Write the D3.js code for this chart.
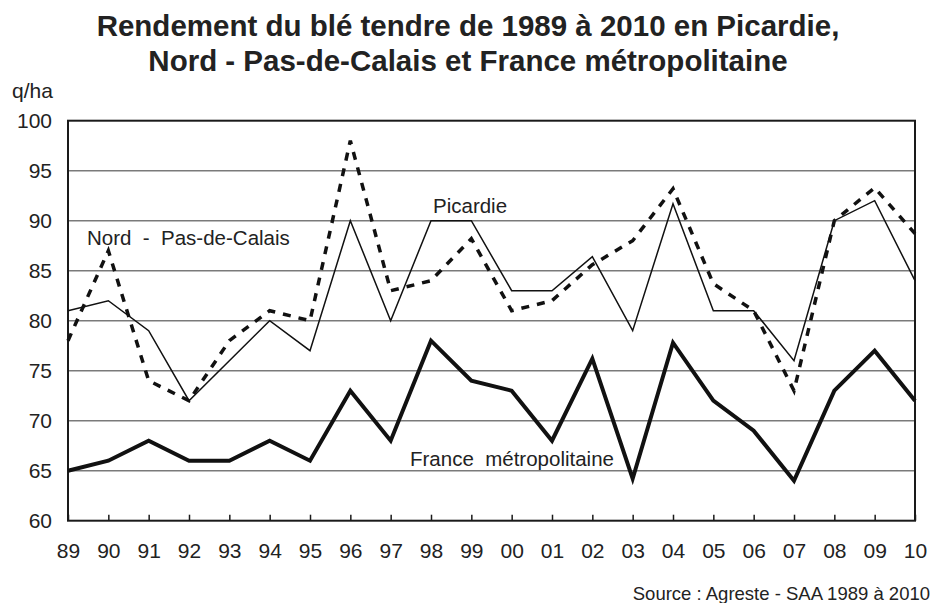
<!DOCTYPE html>
<html>
<head>
<meta charset="utf-8">
<script src="https://cdn.jsdelivr.net/npm/d3@7"></script>
<style>
  body { margin: 0; background: #fff; }
  svg { font-family: "Liberation Sans", Arial, sans-serif; }
</style>
</head>
<body>
<svg id="chart" width="931" height="603"></svg>
<script>
const years = ["89","90","91","92","93","94","95","96","97","98","99","00","01","02","03","04","05","06","07","08","09","10"];
const picardie = [81,82,79,72,76,80,77,90,80,90,90,83,83,86.4,79,91.7,81,81,76,90,92,84];
const nordPdc = [78,87,74,72,78,81,80,98,83,84,88.2,81,82,85.6,88,93.2,83.7,81,73,90,93.3,88.7];
const france = [65,66,68,66,66,68,66,73,68,78,74,73,68,76.2,64.2,77.8,72,69,64,73,77,72];
const yTicks = [60,65,70,75,80,85,90,95,100];

const margin = { top: 120.7, right: 16, bottom: 82.3, left: 68 };
const width = 931 - margin.left - margin.right;
const height = 603 - margin.top - margin.bottom;

const svg = d3.select('#chart');

// title
svg.append("text")
    .attr("x", 468).attr("y", 36)
    .attr("text-anchor", "middle")
    .attr("font-size", 29.5).attr("font-weight", "bold").attr("fill", "#222")
    .text("Rendement du blé tendre de 1989 à 2010 en Picardie,");
svg.append("text")
    .attr("x", 468).attr("y", 70.5)
    .attr("text-anchor", "middle")
    .attr("font-size", 29.5).attr("font-weight", "bold").attr("fill", "#222")
    .text("Nord - Pas-de-Calais et France métropolitaine");

svg.append("text")
    .attr("x", 12).attr("y", 98)
    .attr("font-size", 21).attr("fill", "#222")
    .text("q/ha");

const chart = svg.append("g")
    .attr("transform", `translate(${margin.left},${margin.top})`);

const xScale = d3.scalePoint().domain(years).range([0, width]);
const yScale = d3.scaleLinear().domain([60, 100]).range([height, 0]);

// gridlines
chart.selectAll(".grid")
    .data(yTicks.slice(1, -1))
    .enter().append("line")
    .attr("x1", 0).attr("x2", width)
    .attr("y1", d => yScale(d)).attr("y2", d => yScale(d))
    .attr("stroke", "#7a7a7a").attr("stroke-width", 1.5);

// frame
chart.append("rect")
    .attr("width", width).attr("height", height)
    .attr("fill", "none").attr("stroke", "#1a1a1a").attr("stroke-width", 2);

// y axis labels
const yAxis = d3.axisLeft(yScale).tickValues(yTicks).tickSize(0).tickPadding(16);
chart.append("g").call(yAxis)
    .call(g => g.select(".domain").remove())
    .selectAll("text")
    .attr("font-size", 21).attr("fill", "#222")
    .attr("font-family", "Liberation Sans, Arial, sans-serif");

// x axis with inner ticks
const xAxis = d3.axisBottom(xScale).tickSize(-6).tickPadding(22);
chart.append("g")
    .attr("transform", `translate(0,${height})`)
    .call(xAxis)
    .call(g => g.select(".domain").remove())
    .call(g => g.selectAll(".tick line").attr("stroke", "#1a1a1a").attr("stroke-width", 1.5))
    .selectAll("text")
    .attr("font-size", 21).attr("fill", "#222")
    .attr("font-family", "Liberation Sans, Arial, sans-serif");

const line = d3.line()
    .x((d, i) => xScale(years[i]))
    .y(d => yScale(d));

chart.append("path").datum(france)
    .attr("d", line).attr("fill", "none")
    .attr("stroke", "#111").attr("stroke-width", 4).attr("stroke-linejoin", "miter");

chart.append("path").datum(picardie)
    .attr("d", line).attr("fill", "none")
    .attr("stroke", "#111").attr("stroke-width", 1.5);

chart.append("path").datum(nordPdc)
    .attr("d", line).attr("fill", "none")
    .attr("stroke", "#111").attr("stroke-width", 3.5)
    .attr("stroke-dasharray", "8,8");

// series labels
svg.append("text").attr("x", 87).attr("y", 245)
    .attr("font-size", 20.5).attr("fill", "#222")
    .attr("xml:space", "preserve")
    .text("Nord  -  Pas-de-Calais");
svg.append("text").attr("x", 433).attr("y", 213)
    .attr("font-size", 20.5).attr("fill", "#222")
    .text("Picardie");
svg.append("text").attr("x", 410).attr("y", 466)
    .attr("font-size", 20.5).attr("fill", "#222")
    .attr("xml:space", "preserve")
    .text("France  métropolitaine");

svg.append("text").attr("x", 930).attr("y", 600)
    .attr("text-anchor", "end")
    .attr("font-size", 18.5).attr("fill", "#222")
    .text("Source : Agreste - SAA 1989 à 2010");
</script>
</body>
</html>
